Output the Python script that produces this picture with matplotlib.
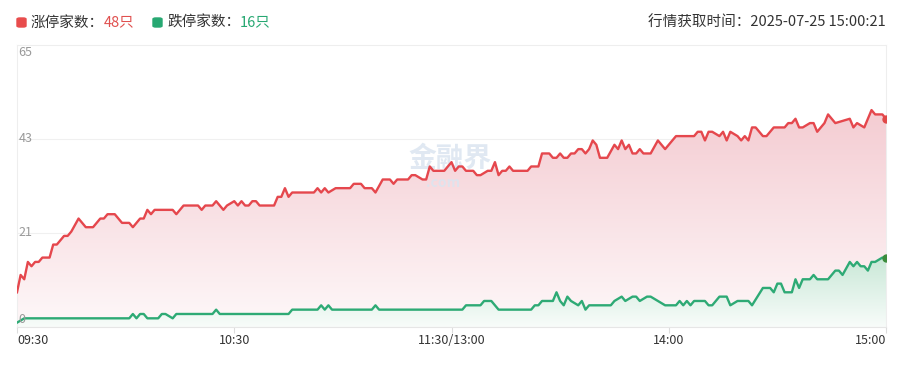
import matplotlib
matplotlib.use("Agg")
import matplotlib.pyplot as plt
import numpy as np
from matplotlib.colors import LinearSegmentedColormap
from matplotlib.patches import FancyBboxPatch

plt.rcParams['font.family'] = ['Noto Sans CJK SC', 'DejaVu Sans']

# data: minutes since 09:30 (trading minutes, lunch break removed) and counts
up_min = [0, 1, 2, 3, 4, 5, 6, 7, 9, 10, 11, 13, 14, 15, 17, 19, 21, 23, 24, 25,
          27, 29, 31, 32, 34, 35, 36, 37, 38, 43, 44, 46, 50, 51, 52, 54, 55, 57, 58, 60,
          61, 62, 63, 64, 65, 66, 67, 71, 72, 73, 74, 75, 76, 82, 83, 84, 85, 86, 88, 92,
          93, 95, 96, 98, 99, 101, 103, 104, 105, 108, 109, 110, 112, 113, 114, 115, 118, 119, 120, 121,
          122, 123, 124, 126, 127, 128, 130, 131, 132, 133, 134, 135, 136, 137, 141, 142, 144, 145, 147, 148,
          149, 150, 151, 152, 153, 154, 155, 156, 157, 158, 159, 160, 161, 163, 165, 166, 167, 168, 169, 170,
          171, 172, 173, 175, 177, 179, 180, 182, 187, 188, 189, 190, 191, 192, 194, 195, 196, 197, 199, 200,
          201, 202, 203, 204, 206, 207, 209, 212, 213, 214, 215, 216, 217, 219, 220, 221, 223, 224, 225, 226,
          230, 231, 232, 234, 236, 237, 239, 240]
up_val = [8, 12, 11, 15, 14, 15, 15, 16, 16, 19, 19, 21, 21, 22, 25, 23, 23, 25, 25, 26,
          26, 24, 24, 23, 25, 25, 27, 26, 27, 27, 26, 28, 28, 27, 28, 28, 29, 27, 28, 29,
          28, 29, 28, 28, 29, 29, 28, 28, 30, 30, 32, 30, 31, 31, 32, 31, 32, 31, 32, 32,
          33, 33, 32, 32, 31, 34, 34, 33, 34, 34, 35, 35, 34, 34, 37, 36, 36, 37, 38, 36,
          37, 37, 36, 36, 35, 35, 36, 36, 38, 35, 36, 36, 37, 36, 36, 37, 37, 40, 40, 39,
          39, 40, 39, 39, 40, 40, 41, 41, 40, 41, 43, 42, 39, 39, 42, 41, 43, 41, 42, 40,
          40, 41, 40, 40, 43, 41, 42, 44, 44, 45, 45, 43, 45, 45, 44, 45, 43, 45, 44, 43,
          44, 43, 46, 46, 44, 44, 46, 46, 47, 47, 48, 46, 46, 47, 47, 45, 47, 49, 48, 47,
          48, 46, 47, 46, 50, 49, 49, 48]

down_min = [0, 2, 31, 32, 33, 34, 35, 36, 39, 40, 41, 43, 44, 54, 55, 56, 75, 76, 83, 84,
            85, 86, 87, 98, 99, 100, 123, 124, 128, 129, 131, 133, 142, 143, 144, 145, 148, 149, 150, 151,
            152, 153, 155, 156, 157, 158, 164, 165, 167, 168, 170, 171, 172, 174, 175, 177, 179, 182, 183, 184,
            185, 186, 187, 190, 191, 192, 194, 196, 197, 199, 202, 203, 206, 208, 209, 210, 211, 212, 214, 215,
            216, 217, 219, 220, 221, 224, 226, 227, 228, 230, 231, 232, 233, 234, 235, 236, 237, 239, 240]
down_val = [1, 2, 2, 3, 2, 3, 3, 2, 2, 3, 3, 2, 3, 3, 4, 3, 3, 4, 4, 5,
            4, 5, 4, 4, 5, 4, 4, 5, 5, 6, 6, 4, 4, 5, 5, 6, 6, 8, 6, 5,
            7, 6, 5, 6, 4, 5, 5, 6, 7, 6, 7, 7, 6, 7, 7, 6, 5, 5, 6, 5,
            6, 5, 6, 6, 5, 5, 7, 7, 5, 6, 6, 5, 9, 9, 8, 10, 10, 8, 8, 11,
            9, 11, 11, 12, 11, 11, 13, 13, 12, 15, 14, 15, 14, 14, 13, 15, 15, 16, 16]

x_ticks = [0, 60, 120, 180, 240]
x_labels = ["09:30", "10:30", "11:30/13:00", "14:00", "15:00"]
y_ticks = [0, 65 / 3, 130 / 3, 65]
y_labels = ["0", "21", "43", "65"]

up_count = 48
down_count = 16
fetch_time = "2025-07-25 15:00:21"

red = "#e5474d"
green = "#2eaa75"

W, H = 899, 367
fig = plt.figure(figsize=(W / 100, H / 100), dpi=100)
ax = fig.add_axes([17 / W, 40 / H, 869 / W, 282 / H])


def gradient_fill(xs, ys, c_top, c_bot, z):
    poly = ax.fill_between(xs, ys, 0, color="none", lw=0)
    cmap = LinearSegmentedColormap.from_list("g", [c_bot, c_top])
    grad = np.linspace(0, 1, 256).reshape(-1, 1)
    im = ax.imshow(grad, cmap=cmap, origin="lower", aspect="auto",
                   extent=[min(xs), max(xs), 0, max(ys)], zorder=z)
    im.set_clip_path(poly.get_paths()[0], transform=ax.transData)


gradient_fill(up_min, up_val, "#f4ccd2", "#fef8f9", 1)
gradient_fill(down_min, down_val, "#c9e8d7", "#f8fcfa", 2)

ax.plot(up_min, up_val, color=red, lw=1.7, zorder=4, solid_joinstyle="round")
ax.plot(down_min, down_val, color=green, lw=1.7, zorder=4, solid_joinstyle="round")
ax.plot(up_min[-1], up_val[-1], "o", color="#e04848", ms=5, zorder=5)
ax.plot(down_min[-1], down_val[-1], "o", color="#3c8c3c", ms=5, zorder=5)

ax.set_xlim(0, 240)
ax.set_ylim(0, 65)

# frame and grid
for s in ax.spines.values():
    s.set_color("#eeeeee")
    s.set_linewidth(0.8)
ax.spines["bottom"].set_color("#e6e6e6")
for yt in y_ticks[1:3]:
    ax.axhline(yt, color="#f0f0f0", lw=0.8, zorder=0)

ax.set_yticks([])
ax.set_xticks(x_ticks)
ax.set_xticklabels([])
ax.tick_params(axis="x", length=4, color="#dddddd", direction="out")

for xt, lab in zip(x_ticks, x_labels):
    ha = "center"
    if xt == x_ticks[0]:
        ha = "left"
    elif xt == x_ticks[-1]:
        ha = "right"
    ax.annotate(lab, xy=(xt, 0), xycoords=("data", "axes fraction"),
                xytext=(0, -10), textcoords="offset points",
                ha=ha, va="center", fontsize=9, color="#333333")

for yt, lab in zip(y_ticks, y_labels):
    va = "center"
    off = 0
    if yt == y_ticks[-1]:
        va, off = "top", -1
    elif yt == y_ticks[0]:
        va, off = "bottom", 1
    ax.annotate(lab, xy=(0, yt), xytext=(1, off), textcoords="offset points",
                ha="left", va=va, fontsize=9, color="#999999", zorder=6)

# watermark
ax.text(0.498, 0.596, "金融界", transform=ax.transAxes, fontsize=20, fontweight="bold",
        color="#dbe5f0", alpha=0.85, ha="center", va="center", zorder=3)
ax.text(0.49, 0.51, ".com", transform=ax.transAxes, fontsize=10, fontweight="bold",
        color="#dbe5f0", alpha=0.85, ha="center", va="center", zorder=3)

# header legend
for px, col in [(17, "#e84c4c"), (153, "#27a872")]:
    fig.patches.append(FancyBboxPatch((px / W, 1 - 27 / H), 9 / W, 9 / H,
                                      boxstyle="round,pad=0,rounding_size=0.003",
                                      transform=fig.transFigure, color=col, figure=fig))
ty = 1 - 22.5 / H
fig.text(31 / W, ty, "涨停家数：", fontsize=10.5, color="#333333", va="center")
fig.text(104 / W, ty, f"{up_count}只", fontsize=10.5, color="#e0504f", va="center")
fig.text(167 / W, ty, "跌停家数：", fontsize=10.5, color="#333333", va="center")
fig.text(240 / W, ty, f"{down_count}只", fontsize=10.5, color="#27a872", va="center")
fig.text(886 / W, ty, "行情获取时间：" + fetch_time, fontsize=10.5, color="#333333",
         va="center", ha="right")

fig.savefig("out.png", dpi=100)
